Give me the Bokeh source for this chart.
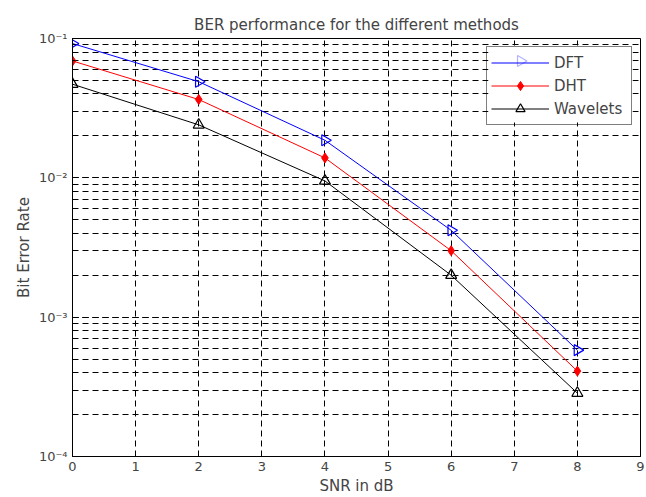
import math
from bokeh.plotting import figure
from bokeh.models import (CustomJSTickFormatter, Legend, LegendItem, FixedTicker,
                          PolyAnnotation, BoxAnnotation)
from bokeh.embed import file_html
from bokeh.resources import INLINE

snr = [0, 2, 4, 6, 8]
dft = [0.092, 0.049, 0.0186, 0.0042, 0.00058]
dht = [0.069, 0.0365, 0.0139, 0.0030, 0.00041]
wav = [0.047, 0.024, 0.0095, 0.0020, 0.000285]
x_ticks = [0, 1, 2, 3, 4, 5, 6, 7, 8, 9]
title = "BER performance for the different methods"
x_label = "SNR in dB"
y_label = "Bit Error Rate"
names = ["DFT", "DHT", "Wavelets"]

FONT = "DejaVu Sans"

p = figure(width=646, height=497, y_axis_type="log", x_range=(0, 9), y_range=(1e-4, 1e-1),
           output_backend="svg", toolbar_location=None, title=title,
           min_border_left=72, min_border_right=6, min_border_top=38, min_border_bottom=40)

p.background_fill_color = "white"
p.border_fill_color = "white"
p.outline_line_color = "black"
p.outline_line_width = 1

p.title.text_font = FONT
p.title.text_font_size = "15px"
p.title.text_font_style = "normal"
p.title.align = "center"
p.title.standoff = 10

p.xaxis.ticker = FixedTicker(ticks=x_ticks)
p.xaxis.axis_label = x_label
p.yaxis.axis_label = y_label
for ax in (p.xaxis, p.yaxis):
    ax.axis_label_text_font = FONT
    ax.axis_label_text_font_size = "15px"
    ax.axis_label_text_font_style = "normal"
    ax.major_label_text_font = FONT
    ax.major_label_text_font_size = "13px"
    ax.major_tick_in = 5
    ax.major_tick_out = 0
    ax.axis_line_color = "black"
    ax.major_tick_line_color = "black"
p.xaxis.minor_tick_line_color = None
p.yaxis.minor_tick_in = 3
p.yaxis.minor_tick_out = 0
p.yaxis.minor_tick_line_color = "black"
p.xaxis.axis_label_standoff = 3
p.yaxis.axis_label_standoff = 3
p.yaxis.formatter = CustomJSTickFormatter(code="""
const e = Math.round(Math.log10(tick));
const sup = {'-':'\u207b','0':'\u2070','1':'\u00b9','2':'\u00b2','3':'\u00b3','4':'\u2074','5':'\u2075','6':'\u2076','7':'\u2077','8':'\u2078','9':'\u2079'};
return '10' + String(e).split('').map(c => sup[c]).join('');
""")

DASH = "6 4"
p.xgrid.ticker = FixedTicker(ticks=x_ticks)
p.xgrid.grid_line_color = "black"
p.xgrid.grid_line_dash = DASH
p.ygrid.grid_line_color = "black"
p.ygrid.grid_line_dash = DASH
p.ygrid.minor_grid_line_color = "black"
p.ygrid.minor_grid_line_dash = DASH

l1 = p.line(snr, dft, line_color="blue", line_width=1)
m1 = p.scatter(snr, dft, marker="triangle", angle=-math.pi / 2, size=11,
               line_color="blue", fill_color=None, line_width=1.2)
l2 = p.line(snr, dht, line_color="red", line_width=1)
m2 = p.scatter(snr, dht, marker="diamond", size=10, line_color="red", fill_color="red")
l3 = p.line(snr, wav, line_color="black", line_width=1)
m3 = p.scatter(snr, wav, marker="triangle", size=11, line_color="black",
               fill_color=None, line_width=1.2)

PAD, GLYPH_W, ENTRY_H, STANDOFF, LABEL_W, MARGIN = 4, 58, 23, 5, 73, 8
frame_w = 646 - 72 - 6
frame_h = 497 - 38 - 40
leg_w = PAD + GLYPH_W + STANDOFF + LABEL_W + PAD
leg_h = 2 * PAD + 3 * ENTRY_H

# white legend background (the legend itself is drawn transparent on top)
bg = BoxAnnotation(left=frame_w - MARGIN - leg_w, right=frame_w - MARGIN,
                   top=frame_h - MARGIN, bottom=frame_h - MARGIN - leg_h,
                   left_units="screen", right_units="screen",
                   top_units="screen", bottom_units="screen",
                   fill_color="white", fill_alpha=1, line_color=None)
p.add_layout(bg)

# right-pointing triangle key for the DFT legend entry (legend keys ignore marker angle)
cx = frame_w - MARGIN - leg_w + PAD + GLYPH_W / 2
cy = frame_h - MARGIN - PAD - ENTRY_H / 2
key = PolyAnnotation(xs=[cx - 4, cx + 5.5, cx - 4], ys=[cy + 5.5, cy, cy - 5.5],
                     xs_units="screen", ys_units="screen",
                     line_color="blue", line_width=1.2, fill_color="white", fill_alpha=1)

legend = Legend(items=[LegendItem(label=names[0], renderers=[l1]),
                       LegendItem(label=names[1], renderers=[l2, m2]),
                       LegendItem(label=names[2], renderers=[l3, m3])],
                location="top_right")
legend.border_line_color = "black"
legend.border_line_width = 1
legend.background_fill_alpha = 0
legend.label_text_font = FONT
legend.label_text_font_size = "15px"
legend.glyph_width = GLYPH_W
legend.glyph_height = ENTRY_H
legend.label_height = ENTRY_H
legend.label_width = LABEL_W
legend.spacing = 0
legend.padding = PAD
legend.margin = MARGIN
legend.label_standoff = STANDOFF
p.add_layout(legend)
p.add_layout(key)

open("out.html", "w").write(file_html(p, INLINE))
